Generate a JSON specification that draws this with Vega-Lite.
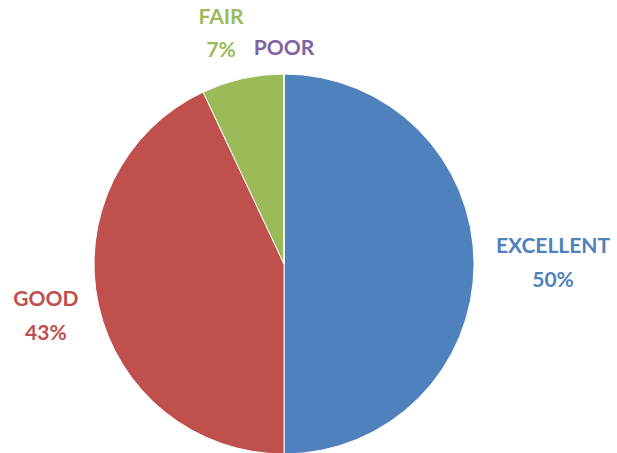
{
  "$schema": "https://vega.github.io/schema/vega-lite/v6.json",
  "autosize": "none",
  "padding": {"left": 0, "top": 75, "right": 49, "bottom": 0},
  "width": 568,
  "height": 378,
  "background": "white",
  "data": {
    "values": [
      {"category": "EXCELLENT", "value": 50},
      {"category": "GOOD", "value": 43},
      {"category": "FAIR", "value": 7},
      {"category": "POOR", "value": 0}
    ]
  },
  "transform": [
    {"calculate": "datum.value > 0 ? datum.category + '\\n' + datum.value + '%' : datum.category", "as": "label"}
  ],
  "encoding": {
    "theta": {"field": "value", "type": "quantitative", "stack": true},
    "order": {"field": "value", "sort": "descending"},
    "color": {
      "field": "category",
      "type": "nominal",
      "scale": {
        "domain": ["EXCELLENT", "GOOD", "FAIR", "POOR"],
        "range": ["#4F81BD", "#C0504D", "#9BBB59", "#8064A2"]
      },
      "legend": null
    }
  },
  "layer": [
    {"mark": {"type": "arc", "outerRadius": 190, "stroke": "white", "strokeWidth": 1}},
    {
      "mark": {"type": "text", "radius": 269, "dy": -17, "font": "Lato", "fontWeight": "bold", "fontSize": 21, "lineBreak": "\n", "lineHeight": 34, "align": "center", "baseline": "middle"},
      "encoding": {"text": {"condition": {"test": "datum.category === 'EXCELLENT'", "field": "label"}, "value": ""}}
    },
    {
      "mark": {"type": "text", "radius": 244, "dy": -17, "font": "Lato", "fontWeight": "bold", "fontSize": 21, "lineBreak": "\n", "lineHeight": 34, "align": "center", "baseline": "middle"},
      "encoding": {"text": {"condition": {"test": "datum.category === 'GOOD'", "field": "label"}, "value": ""}}
    },
    {
      "mark": {"type": "text", "radius": 238, "dx": -11, "dy": -14, "font": "Lato", "fontWeight": "bold", "fontSize": 21, "lineBreak": "\n", "lineHeight": 33, "align": "center", "baseline": "middle"},
      "encoding": {"text": {"condition": {"test": "datum.category === 'FAIR'", "field": "label"}, "value": ""}}
    },
    {
      "mark": {"type": "text", "radius": 217, "dy": 2, "font": "Lato", "fontWeight": "bold", "fontSize": 21, "lineBreak": "\n", "lineHeight": 34, "align": "center", "baseline": "middle"},
      "encoding": {"text": {"condition": {"test": "datum.category === 'POOR'", "field": "label"}, "value": ""}}
    }
  ]
}
